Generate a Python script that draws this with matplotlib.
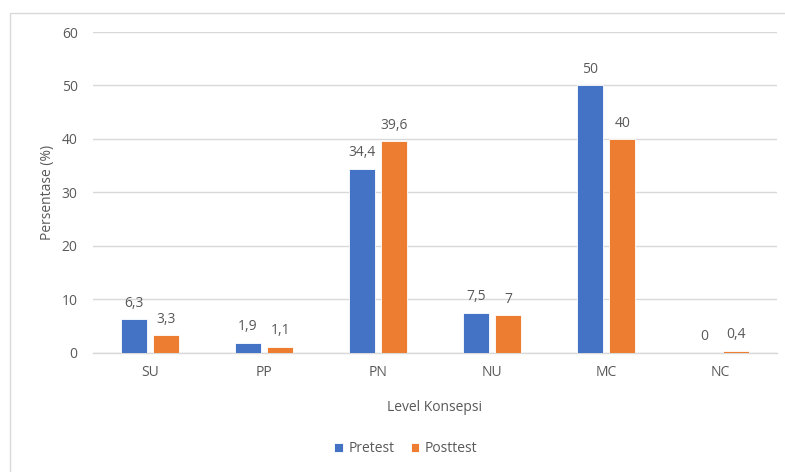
import matplotlib
matplotlib.use("Agg")
import matplotlib.pyplot as plt
from matplotlib.patches import Rectangle
import numpy as np

categories = ["SU", "PP", "PN", "NU", "MC", "NC"]
pretest = [6.3, 1.9, 34.4, 7.5, 50, 0]
posttest = [3.3, 1.1, 39.6, 7, 40, 0.4]
y_ticks = [0, 10, 20, 30, 40, 50, 60]

BLUE = "#4472C4"
ORANGE = "#ED7D31"
TEXT = "#595959"
GRID = "#D9D9D9"
FS = 10

plt.rcParams["font.family"] = ["Open Sans", "DejaVu Sans"]

W, H = 785, 472
fig = plt.figure(figsize=(W / 100, H / 100), dpi=100)
ax = fig.add_axes([93 / W, 1 - 352.7 / H, (777 - 93) / W, (352.7 - 32) / H])

# chart-area frame
fig.patches.append(Rectangle((10 / W, -0.1), 1.0, 1 - 13 / H + 0.1,
                             transform=fig.transFigure, fill=False,
                             edgecolor=GRID, linewidth=1.0, clip_on=False))

x = np.arange(len(categories))
bw = 0.225
off = 0.1425
b1 = ax.bar(x - off, pretest, bw, color=BLUE, edgecolor="white", linewidth=0.6,
            label="Pretest", zorder=3)
b2 = ax.bar(x + off, posttest, bw, color=ORANGE, edgecolor="white", linewidth=0.6,
            label="Posttest", zorder=3)

def fmt(v):
    s = f"{v:g}"
    return s.replace(".", ",")

for bars, vals in ((b1, pretest), (b2, posttest)):
    for r, v in zip(bars, vals):
        ax.annotate(fmt(v), (r.get_x() + r.get_width() / 2, v),
                    xytext=(0, 6), textcoords="offset points",
                    ha="center", va="bottom", fontsize=FS, color=TEXT)

ax.set_xlim(-0.5, len(categories) - 0.5)
ax.set_ylim(0, 60)
ax.set_yticks(y_ticks)
ax.set_xticks(x)
ax.set_xticklabels(categories)
ax.tick_params(axis="both", length=0, labelsize=FS, labelcolor=TEXT)
ax.tick_params(axis="y", pad=11)
ax.tick_params(axis="x", pad=9)
ax.grid(axis="y", color=GRID, linewidth=1.0, zorder=0)
for s in ("top", "right", "left"):
    ax.spines[s].set_visible(False)
ax.spines["bottom"].set_color(GRID)
ax.spines["bottom"].set_linewidth(1.0)

ax.set_xlabel("Level Konsepsi", fontsize=FS, color=TEXT, labelpad=14)
ax.set_ylabel("Persentase (%)", fontsize=FS, color=TEXT, labelpad=5)

fig.legend(handles=[b1, b2], labels=["Pretest", "Posttest"], loc="center",
           bbox_to_anchor=(406 / W, 1 - 449 / H), ncol=2, frameon=False,
           fontsize=FS, labelcolor=TEXT, handlelength=0.6, handleheight=0.6,
           handletextpad=0.4, columnspacing=1.2)

fig.savefig("out.png", dpi=100)
